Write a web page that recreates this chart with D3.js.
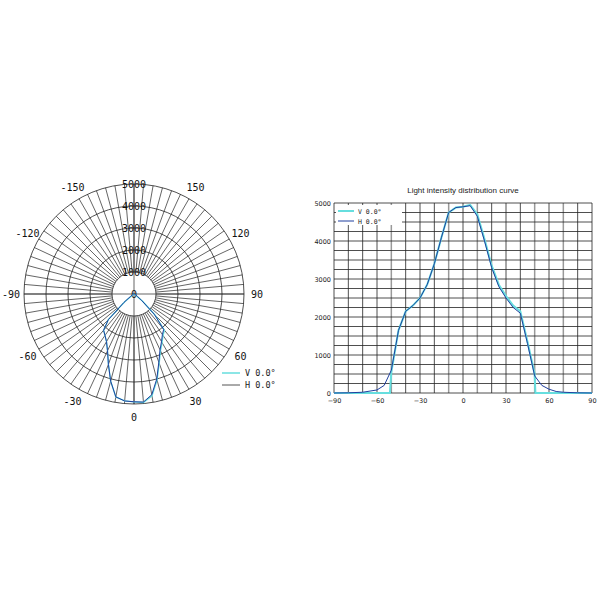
<!DOCTYPE html>
<html><head><meta charset="utf-8">
<script src="https://cdn.jsdelivr.net/npm/d3@7"></script>
<style>body{margin:0;background:#fff}</style>
</head><body><svg id="c" width="600" height="600"></svg>
<script>
const angles = [-90,-80,-70,-60,-55,-50,-45,-40,-35,-30,-25,-20,-15,-10,-5,0,5,10,15,20,25,30,35,40,45,50,55,60,65,70,80,90];
const hValues = [0,5,20,80,200,600,1650,2150,2300,2500,2850,3400,4100,4750,4880,4900,4930,4650,4000,3300,2800,2500,2250,2100,1300,450,200,100,40,20,5,0];
const vAngles = [-90,-51,-50,-45,-40,-35,-30,-25,-20,-15,-10,-5,0,5,10,15,20,25,30,35,40,45,50,50.5,90];
const vValues = [0,0,550,1650,2150,2300,2500,2850,3400,4100,4750,4880,4900,4950,4700,4050,3350,2850,2550,2300,2150,1350,500,0,0];
const polarRings = [1000,2000,3000,4000,5000];
const polarLabels = [-150,-120,-90,-60,-30,0,30,60,90,120,150];
const xTicks = [-90,-60,-30,0,30,60,90];
const yTicks = [0,1000,2000,3000,4000,5000];
const hColor = "#1f3f9f", vColor = "#66dede";

const svg = d3.select("#c");
const cx=134, cy=294;
const r = d3.scaleLinear().domain([0,5000]).range([0,110]);
const gp = svg.append("g").attr("transform",`translate(${cx},${cy})`);
for(let a=0;a<360;a+=5){
  const t=a*Math.PI/180;
  gp.append("line").attr("x1",r(1000)*Math.sin(t)).attr("y1",r(1000)*Math.cos(t))
    .attr("x2",r(5000)*Math.sin(t)).attr("y2",r(5000)*Math.cos(t))
    .attr("stroke","#222").attr("stroke-width",0.7);
}
polarRings.forEach(v=>gp.append("circle").attr("r",r(v)).attr("fill","none").attr("stroke","#222").attr("stroke-width",0.8));
gp.append("line").attr("x1",0).attr("x2",0).attr("y1",-r(5000)).attr("y2",r(5000)).attr("stroke","#222").attr("stroke-width",0.7);
gp.append("line").attr("y1",0).attr("y2",0).attr("x1",-r(5000)).attr("x2",r(5000)).attr("stroke","#222").attr("stroke-width",0.7);
[0,...polarRings].forEach(v=>gp.append("text").attr("x",0).attr("y",-r(v)+4).attr("text-anchor","middle")
  .attr("font-family","DejaVu Sans Mono").attr("font-size",10).attr("fill","#111").text(v));
polarLabels.forEach(a=>{
  const t=a*Math.PI/180, R=123;
  gp.append("text").attr("x",R*Math.sin(t)).attr("y",R*Math.cos(t)+4).attr("text-anchor","middle")
    .attr("font-family","DejaVu Sans Mono").attr("font-size",10).attr("fill","#111").text(a);
});
const pl = (as,vs)=>d3.lineRadial().angle((d,i)=>Math.PI-as[i]*Math.PI/180).radius(d=>r(d))(vs);
gp.append("path").attr("d",pl(vAngles,vValues)+"Z").attr("fill","none").attr("stroke",vColor).attr("stroke-width",1.3);
gp.append("path").attr("d",pl(angles,hValues)+"Z").attr("fill","none").attr("stroke",hColor).attr("stroke-width",1);
const lg=svg.append("g").attr("font-family","DejaVu Sans Mono").attr("font-size",8.5).attr("fill","#222");
lg.append("line").attr("x1",222).attr("x2",240).attr("y1",373).attr("y2",373).attr("stroke",vColor).attr("stroke-width",1.5);
lg.append("text").attr("x",245).attr("y",376).text("V 0.0°");
lg.append("line").attr("x1",222).attr("x2",240).attr("y1",385).attr("y2",385).attr("stroke","#555").attr("stroke-width",1);
lg.append("text").attr("x",245).attr("y",388).text("H 0.0°");

const x = d3.scaleLinear().domain([-90,90]).range([334,592]);
const y = d3.scaleLinear().domain([0,5000]).range([393,203]);
const gc = svg.append("g");
const grey=[-50,-10,10,50,70];
d3.range(-90,91,10).forEach(v=>gc.append("line").attr("x1",x(v)).attr("x2",x(v)).attr("y1",y(0)).attr("y2",y(5000))
  .attr("stroke",grey.includes(v)?"#999":"#222").attr("stroke-width",grey.includes(v)?1.5:0.8));
d3.range(0,5001,250).forEach(v=>gc.append("line").attr("x1",x(-90)).attr("x2",x(90)).attr("y1",y(v)).attr("y2",y(v))
  .attr("stroke","#222").attr("stroke-width",0.8));
const xa = svg.append("g").attr("transform",`translate(0,${y(0)})`).call(d3.axisBottom(x).tickValues(xTicks).tickFormat(d3.format("d")).tickSize(0).tickPadding(5));
const ya = svg.append("g").attr("transform",`translate(${x(-90)},0)`).call(d3.axisLeft(y).tickValues(yTicks).tickFormat(d3.format("d")).tickSize(0).tickPadding(3));
[xa,ya].forEach(a=>{a.select(".domain").remove();a.selectAll("text").attr("font-family","DejaVu Sans").attr("font-size",6.5).attr("fill","#222");});
svg.append("text").attr("x",463).attr("y",193).attr("text-anchor","middle").attr("font-family","Liberation Sans")
  .attr("font-size",8).attr("fill","#222").text("Light intensity distribution curve");
const ln = d3.line().x(d=>x(d[0])).y(d=>y(d[1]));
gc.append("path").attr("d",ln(vAngles.map((a,i)=>[a,vValues[i]]))).attr("fill","none").attr("stroke",vColor).attr("stroke-width",2);
gc.append("path").attr("d",ln(angles.map((a,i)=>[a,hValues[i]]))).attr("fill","none").attr("stroke",hColor).attr("stroke-width",1);
const lg2=svg.append("g").attr("font-family","DejaVu Sans Mono").attr("font-size",6.5).attr("fill","#222");
lg2.append("rect").attr("x",336).attr("y",205).attr("width",66).attr("height",20).attr("fill","#fff");
lg2.append("line").attr("x1",338).attr("x2",354).attr("y1",211).attr("y2",211).attr("stroke",vColor).attr("stroke-width",2);
lg2.append("text").attr("x",358).attr("y",214).text("V 0.0°");
lg2.append("line").attr("x1",338).attr("x2",354).attr("y1",221).attr("y2",221).attr("stroke",hColor).attr("stroke-width",1);
lg2.append("text").attr("x",358).attr("y",224).text("H 0.0°");
</script></body></html>
